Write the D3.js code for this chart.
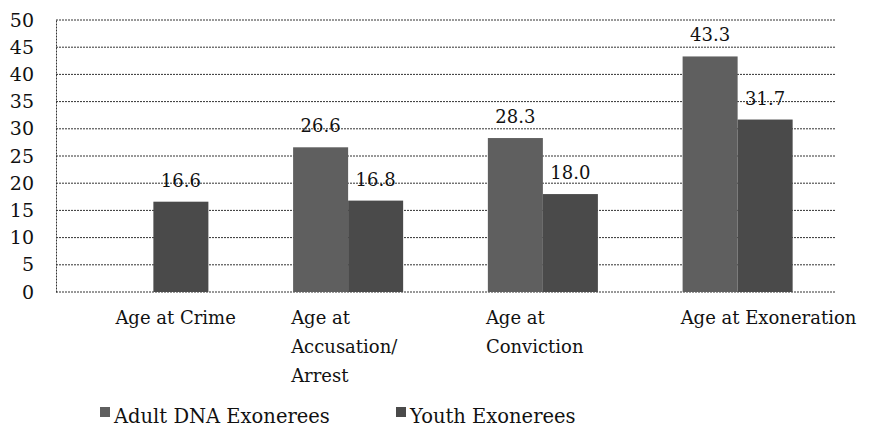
<!DOCTYPE html>
<html>
<head>
<meta charset="utf-8">
<script src="https://cdn.jsdelivr.net/npm/d3@7"></script>
<style>
  body { margin: 0; background: #fff; }
  text { font-family: "DejaVu Serif", serif; fill: #111; }
</style>
</head>
<body>
<div id="chart"></div>
<script>
// data
const categories = ["Age at Crime", "Age at Accusation/ Arrest", "Age at Conviction", "Age at Exoneration"]
const labelLines = [["Age at Crime"], ["Age at", "Accusation/", "Arrest"], ["Age at", "Conviction"], ["Age at Exoneration"]]
const seriesNames = ["Adult DNA Exonerees", "Youth Exonerees"]
const adultValues = [null, 26.6, 28.3, 43.3]
const youthValues = [16.6, 16.8, 18.0, 31.7]
const yTicks = [0, 5, 10, 15, 20, 25, 30, 35, 40, 45, 50]

const colors = ["#5f5f5f", "#4a4a4a"]
const width = 872, height = 429

const svg = d3.select("#chart").append("svg")
    .attr("width", width)
    .attr("height", height)

// scales
const x = d3.scaleBand()
    .domain(categories)
    .range([56, 835])
    .paddingInner(0.435)
    .paddingOuter(0.2175)

const xs = d3.scaleBand()
    .domain(seriesNames)
    .range([0, x.bandwidth()])

const y = d3.scaleLinear()
    .domain([0, 50])
    .range([292, 20])

// gridlines
svg.append("g")
    .selectAll("line")
    .data(yTicks)
    .enter().append("line")
    .attr("x1", 56)
    .attr("x2", 835)
    .attr("y1", d => y(d))
    .attr("y2", d => y(d))
    .attr("stroke", "#333")
    .attr("stroke-width", 1)
    .attr("stroke-dasharray", "2,1")

// y axis
const yAxis = svg.append("g")
    .attr("transform", "translate(56,0)")
    .call(d3.axisLeft(y).tickValues(yTicks).tickSize(0).tickPadding(22))
yAxis.select(".domain")
    .attr("stroke", "#333")
    .attr("stroke-dasharray", "2,1")
yAxis.selectAll("text")
    .style("font-family", "DejaVu Serif")
    .style("font-size", "19px")
    .attr("fill", "#111")

// bars
const rows = categories.map((c, i) => ({ cat: c, values: [adultValues[i], youthValues[i]] }))

const groups = svg.append("g")
    .selectAll("g")
    .data(rows)
    .enter().append("g")
    .attr("transform", d => "translate(" + x(d.cat) + ",0)")

const bars = groups.selectAll("g.bar")
    .data(d => d.values.map((v, j) => ({ name: seriesNames[j], value: v, j: j })).filter(b => b.value != null))
    .enter().append("g")
    .attr("class", "bar")

bars.append("rect")
    .attr("x", d => xs(d.name))
    .attr("width", xs.bandwidth())
    .attr("y", d => y(d.value))
    .attr("height", d => y(0) - y(d.value))
    .attr("fill", d => colors[d.j])

bars.append("text")
    .attr("x", d => xs(d.name) + xs.bandwidth() / 2)
    .attr("y", d => y(d.value) - 15)
    .attr("text-anchor", "middle")
    .style("font-size", "18px")
    .text(d => d.value.toFixed(1))

// category labels
const catLabels = svg.append("g")
    .selectAll("text")
    .data(categories)
    .enter().append("text")
    .attr("x", (d, i) => x(d) + x.bandwidth() / 2 - 57 + (i === 0 ? 19 : 0))
    .attr("y", 324)
    .style("font-size", "18px")

catLabels.selectAll("tspan")
    .data((d, i) => labelLines[i])
    .enter().append("tspan")
    .attr("x", function () { return d3.select(this.parentNode).attr("x") })
    .attr("dy", (d, i) => i === 0 ? 0 : 29)
    .text(d => d)

// legend
const legendX = [100, 396]
const legend = svg.append("g")
    .selectAll("g")
    .data(seriesNames)
    .enter().append("g")
    .attr("transform", (d, i) => "translate(" + legendX[i] + ",407)")

legend.append("rect")
    .attr("width", 10)
    .attr("height", 10)
    .attr("fill", (d, i) => colors[i])

legend.append("text")
    .attr("x", 14)
    .attr("y", 16)
    .style("font-size", "19.5px")
    .text(d => d)
</script>
</body>
</html>
